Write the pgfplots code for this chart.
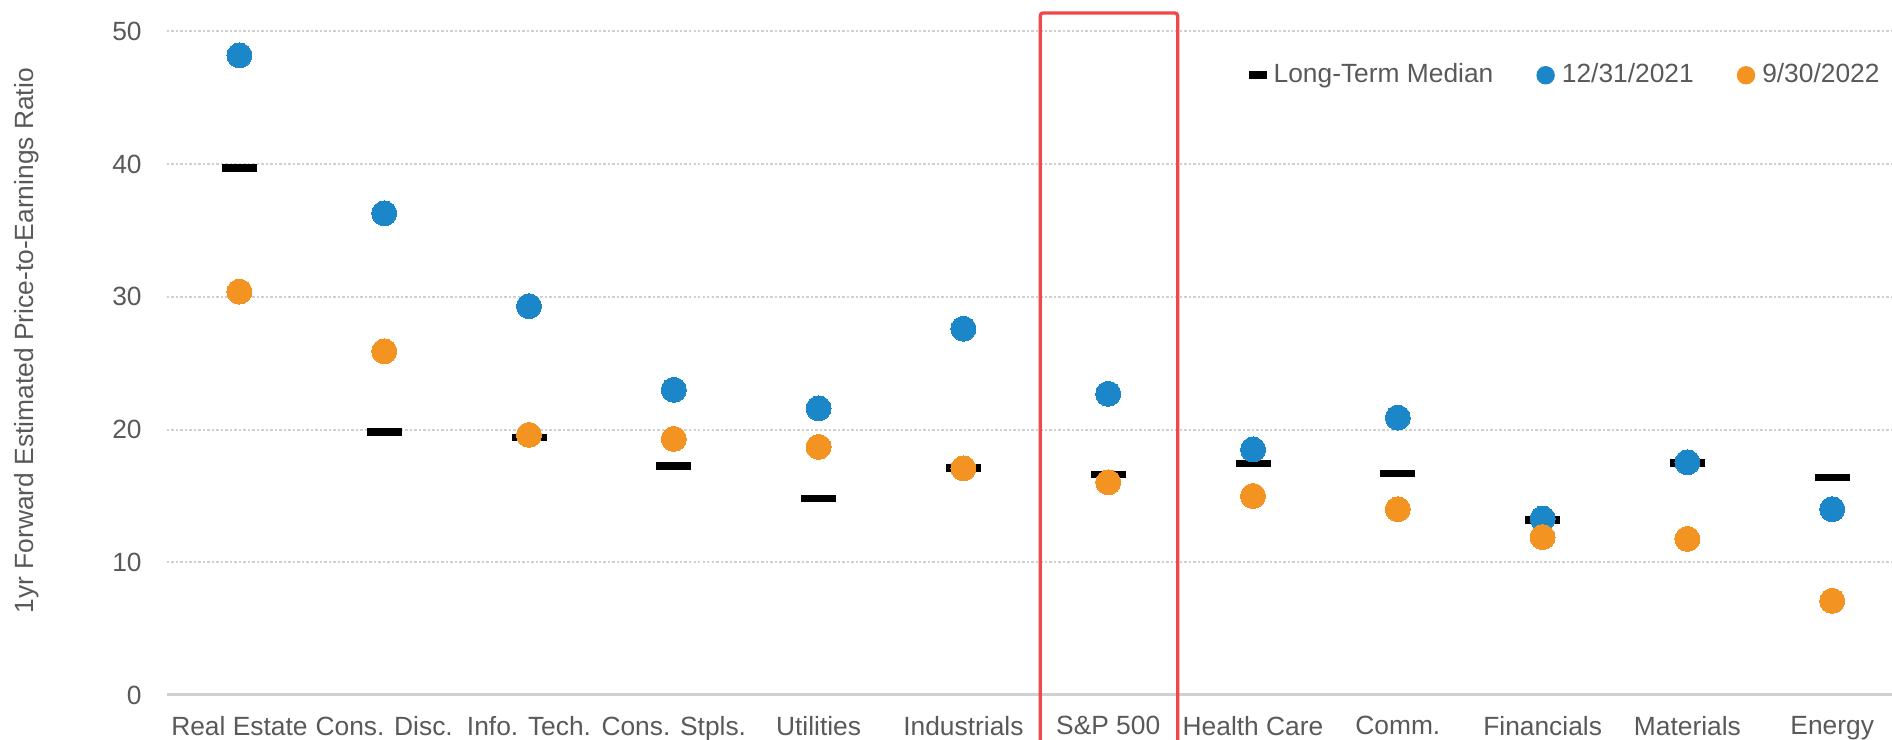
\documentclass[border=0pt]{standalone}
\usepackage{fontspec}
\setmainfont{Liberation Sans}
\usepackage{pgfplots}
\pgfplotsset{compat=1.18}
\definecolor{cblue}{HTML}{1B87C9}
\definecolor{corange}{HTML}{F39322}
\definecolor{tg}{HTML}{595959}
\definecolor{gr}{HTML}{D0D0D0}
\definecolor{rb}{HTML}{F04747}
\begin{document}
\begin{tikzpicture}
\useasboundingbox (-16.7mm,-4.5mm) rectangle (172.5mm,69.5mm);
\clip (-16.7mm,-4.5mm) rectangle (172.5mm,69.5mm);
\begin{axis}[
  x=14.48mm, y=1.327mm,
  xmin=-0.5, xmax=11.5, ymin=0, ymax=50,
  clip=false,
  axis line style={draw=none},
  major tick length=0pt,
  font=\fontsize{7.5}{9}\selectfont,
  /pgf/number format/assume math mode=true,
  tick label style={text=tg},
  xtick={0,...,11},
  xticklabels={Real Estate, Cons. Disc., Info. Tech., Cons. Stpls., Utilities, Industrials, S\&P 500, Health Care, Comm., Financials, Materials, Energy},
  xticklabel style={anchor=north, yshift=-2.6pt},
  ytick={10,20,30,40,50},
  yticklabel style={xshift=-3.7pt},
  extra y ticks={0},
  extra y tick style={grid style={solid, draw=gr, line width=0.3mm}},
  ymajorgrids,
  grid style={draw=gr, line width=0.2mm, dash pattern=on 0.25mm off 0.2mm},
  ylabel={1yr Forward Estimated Price-to-Earnings Ratio},
  ylabel style={at={(axis description cs:-0.0809,0.534)}, anchor=center, text=tg},
  legend columns=3,
  legend style={draw=none, fill=none, text=tg, at={(0.99,0.934)}, anchor=east, inner sep=0pt,
    /tikz/every even column/.append style={column sep=3.6mm}},
]
\addplot[black, only marks, mark=-, mark size=1.75mm, mark options={line width=0.75mm},
  legend image code/.code={\fill[black] (0mm,-0.35mm) rectangle (1.6mm,0.35mm);}]
  coordinates {(0,39.7) (1,19.8) (2,19.4) (3,17.26) (4,14.8) (5,17.1) (6,16.63) (7,17.45) (8,16.7) (9,13.2) (10,17.5) (11,16.4)};
\addlegendentry{Long-Term Median}
\addplot[cblue, only marks, mark=*, mark size=1.25mm, mark options={draw=cblue, fill=cblue, line width=0pt},
  legend image code/.code={\fill[cblue] (0.9mm,0mm) circle (0.85mm);}]
  coordinates {(0,48.2) (1,36.3) (2,29.3) (3,23.0) (4,21.6) (5,27.6) (6,22.7) (7,18.5) (8,20.9) (9,13.3) (10,17.54) (11,14.0)};
\addlegendentry{12/31/2021}
\addplot[corange, only marks, mark=*, mark size=1.25mm, mark options={draw=corange, fill=corange, line width=0pt},
  legend image code/.code={\fill[corange] (0.9mm,0mm) circle (0.85mm);}]
  coordinates {(0,30.4) (1,25.9) (2,19.6) (3,19.3) (4,18.7) (5,17.08) (6,16.03) (7,15.0) (8,14.0) (9,11.9) (10,11.76) (11,7.1)};
\addlegendentry{9/30/2022}
\draw[rb, line width=0.33mm, rounded corners=0.3mm] (axis cs:5.53,-20) -- (axis cs:5.53,51.4) -- (axis cs:6.48,51.4) -- (axis cs:6.48,-20);
\end{axis}
\end{tikzpicture}
\end{document}
